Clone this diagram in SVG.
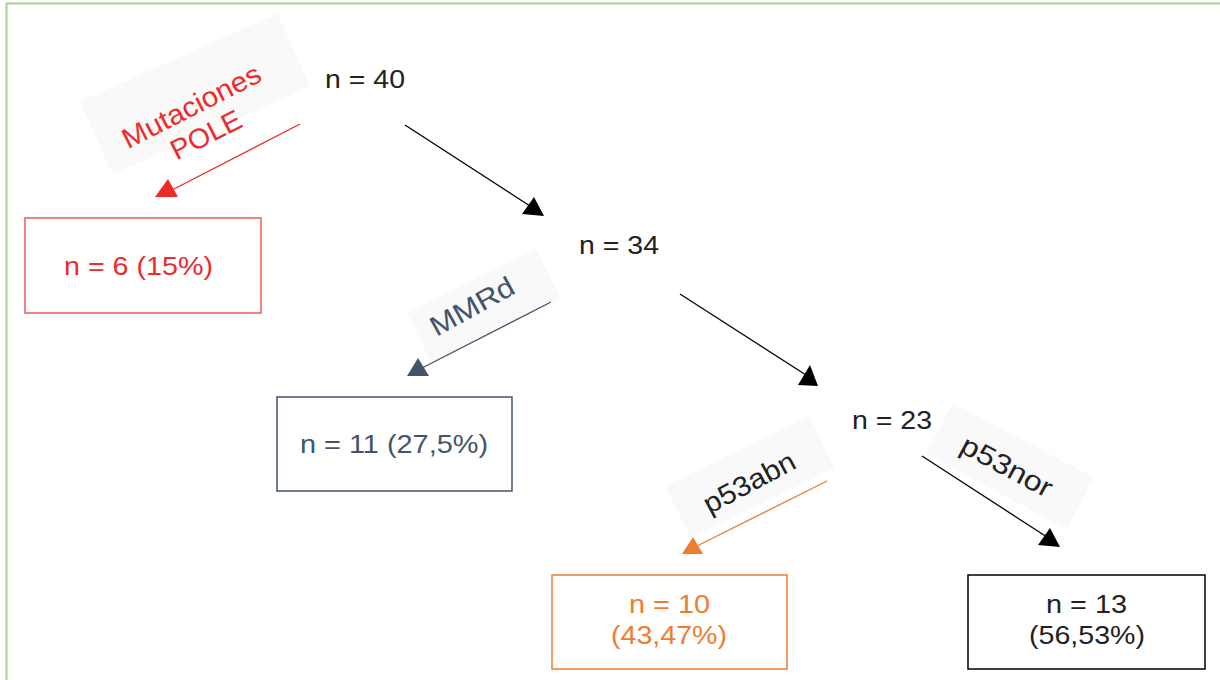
<svg xmlns="http://www.w3.org/2000/svg" width="1220" height="680" viewBox="0 0 1220 680">
<style>
text{font-family:"Liberation Sans",Arial,sans-serif;font-size:26px;text-anchor:middle}
.lb{font-size:28px}
.k{fill:#222}
.r{fill:#ee2a2a}
.s{fill:#44546a}
.o{fill:#ed7d31}
.lbg{fill:#f9f9f9}
.box{fill:#fff;stroke-width:1.5}
</style>
<rect x="6.5" y="3.5" width="1230" height="690" fill="#fff" stroke="#a9d18e" stroke-width="2"/>
<g id="labels">
<g transform="translate(195,94) rotate(-24)"><rect class="lbg" x="-108" y="-40" width="216" height="80"/></g>
<g transform="translate(199,121) rotate(-27)"><text class="r lb" x="0" y="-7" textLength="152" lengthAdjust="spacingAndGlyphs">Mutaciones</text><text class="r lb" x="0" y="25" textLength="76" lengthAdjust="spacingAndGlyphs">POLE</text></g>
<g transform="translate(484,306) rotate(-26)"><rect class="lbg" x="-72" y="-28" width="144" height="56"/></g>
<g transform="translate(472,306) rotate(-29)"><text class="s lb" x="0" y="10" textLength="92" lengthAdjust="spacingAndGlyphs">MMRd</text></g>
<g transform="translate(750,477) rotate(-26)"><rect class="lbg" x="-80" y="-29" width="160" height="58"/></g>
<g transform="translate(749,482) rotate(-28)"><text class="k lb" x="0" y="10" textLength="100" lengthAdjust="spacingAndGlyphs">p53abn</text></g>
<g transform="translate(1010,466) rotate(28)"><rect class="lbg" x="-80" y="-29" width="160" height="58"/></g>
<g transform="translate(1007,466) rotate(28)"><text class="k lb" x="0" y="10" textLength="100" lengthAdjust="spacingAndGlyphs">p53nor</text></g>
</g>
<g id="connectors">
<line x1="300" y1="124" x2="172" y2="190" stroke="#ee2a2a" stroke-width="1.3"/>
<polygon points="168,179 155,197 178,197" fill="#ee2a2a"/>
<line x1="405" y1="125" x2="530" y2="206" stroke="#000" stroke-width="1.3"/>
<polygon points="534,197 522,214 544,216" fill="#000"/>
<line x1="680" y1="294" x2="806" y2="375" stroke="#000" stroke-width="1.3"/>
<polygon points="810,365 798,385 818,386" fill="#000"/>
<line x1="551" y1="302" x2="422" y2="368" stroke="#44546a" stroke-width="1.3"/>
<polygon points="418,358 407,376 429,376" fill="#44546a"/>
<line x1="827" y1="481" x2="697" y2="546" stroke="#ed7d31" stroke-width="1.3"/>
<polygon points="693,537 682,554 703,554" fill="#ed7d31"/>
<line x1="922" y1="456" x2="1047" y2="537" stroke="#000" stroke-width="1.3"/>
<polygon points="1050,528 1038,545 1060,547" fill="#000"/>
</g>
<g id="n40"><text class="k" x="365" y="88" textLength="80" lengthAdjust="spacingAndGlyphs">n = 40</text></g>
<g id="n34"><text class="k" x="619" y="254" textLength="80" lengthAdjust="spacingAndGlyphs">n = 34</text></g>
<g id="n23"><text class="k" x="892" y="429" textLength="80" lengthAdjust="spacingAndGlyphs">n = 23</text></g>
<g id="n6"><rect class="box" x="25" y="218" width="236" height="95" stroke="#ea5a5a"/><text class="r" x="138.5" y="275" textLength="149" lengthAdjust="spacingAndGlyphs">n = 6 (15%)</text></g>
<g id="n11"><rect class="box" x="277" y="397" width="235" height="94" stroke="#44546a"/><text class="s" x="394" y="453" textLength="188" lengthAdjust="spacingAndGlyphs">n = 11 (27,5%)</text></g>
<g id="n10"><rect class="box" x="552" y="575" width="235" height="94" stroke="#ed7d31"/><text class="o" x="669.5" y="613" textLength="81" lengthAdjust="spacingAndGlyphs">n = 10</text><text class="o" x="669" y="644" textLength="116" lengthAdjust="spacingAndGlyphs">(43,47%)</text></g>
<g id="n13"><rect class="box" x="968" y="575" width="237" height="94" stroke="#000"/><text class="k" x="1086.5" y="613" textLength="81" lengthAdjust="spacingAndGlyphs">n = 13</text><text class="k" x="1087" y="644" textLength="116" lengthAdjust="spacingAndGlyphs">(56,53%)</text></g>
</svg>
